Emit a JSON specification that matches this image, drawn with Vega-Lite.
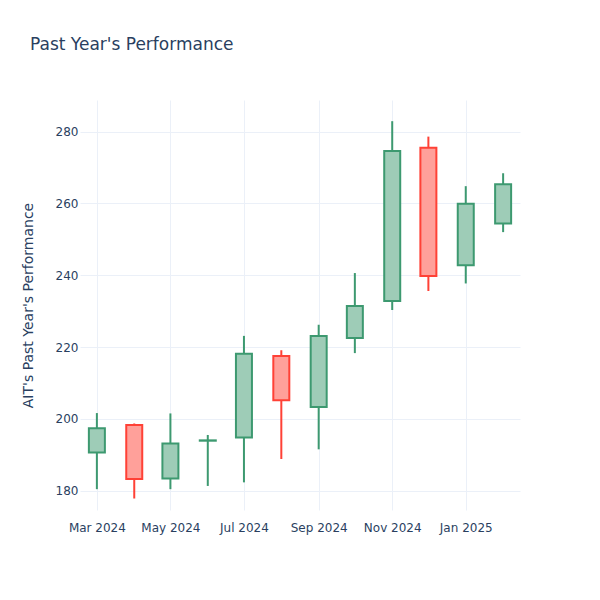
{
  "$schema": "https://vega.github.io/schema/vega-lite/v6.json",
  "autosize": "none",
  "width": 440,
  "height": 410,
  "padding": {"left": 80, "top": 100, "right": 80, "bottom": 90},
  "background": "white",
  "config": {
    "font": "DejaVu Sans",
    "view": {"stroke": null},
    "axis": {
      "labelFont": "DejaVu Sans",
      "labelFontSize": 12,
      "labelColor": "#2a3f5f",
      "titleFont": "DejaVu Sans",
      "titleColor": "#2a3f5f",
      "titleFontWeight": "normal",
      "gridColor": "#EBF0F8",
      "gridWidth": 1,
      "domain": false,
      "ticks": false
    }
  },
  "title": {
    "text": "Past Year's Performance",
    "anchor": "start",
    "frame": "group",
    "dx": -50,
    "offset": 46,
    "fontSize": 17,
    "fontWeight": "normal",
    "color": "#2a3f5f",
    "font": "DejaVu Sans"
  },
  "data": {
    "values": [
      {"date": "2024-03-01", "open": 190.6, "high": 201.6, "low": 180.4, "close": 197.4},
      {"date": "2024-04-01", "open": 198.3, "high": 198.7, "low": 177.8, "close": 183.2},
      {"date": "2024-05-01", "open": 183.4, "high": 201.5, "low": 180.4, "close": 193.1},
      {"date": "2024-06-01", "open": 193.9, "high": 195.5, "low": 181.3, "close": 194.0},
      {"date": "2024-07-01", "open": 194.8, "high": 223.1, "low": 182.3, "close": 218.1},
      {"date": "2024-08-01", "open": 217.5, "high": 219.1, "low": 188.8, "close": 205.2},
      {"date": "2024-09-01", "open": 203.3, "high": 226.2, "low": 191.5, "close": 223.1},
      {"date": "2024-10-01", "open": 222.5, "high": 240.6, "low": 218.3, "close": 231.4},
      {"date": "2024-11-01", "open": 232.8, "high": 282.9, "low": 230.3, "close": 274.6},
      {"date": "2024-12-01", "open": 275.5, "high": 278.6, "low": 235.6, "close": 239.8},
      {"date": "2025-01-01", "open": 242.8, "high": 264.8, "low": 237.7, "close": 259.9},
      {"date": "2025-02-01", "open": 254.4, "high": 268.4, "low": 252.0, "close": 265.3}
    ]
  },
  "encoding": {
    "x": {
      "field": "date",
      "type": "temporal",
      "scale": {
        "type": "utc",
        "nice": false,
        "padding": 0,
        "domain": [
          {"year": 2024, "month": 2, "date": 16, "utc": true},
          {"year": 2025, "month": 2, "date": 15, "utc": true}
        ]
      },
      "axis": {
        "title": null,
        "labelExpr": "utcFormat(datum.value, '%b %Y')",
        "values": [
          {"year": 2024, "month": 3, "date": 1, "utc": true},
          {"year": 2024, "month": 5, "date": 1, "utc": true},
          {"year": 2024, "month": 7, "date": 1, "utc": true},
          {"year": 2024, "month": 9, "date": 1, "utc": true},
          {"year": 2024, "month": 11, "date": 1, "utc": true},
          {"year": 2025, "month": 1, "date": 1, "utc": true}
        ],
        "labelPadding": 12,
        "labelFlush": false
      }
    }
  },
  "layer": [
    {
      "mark": {"type": "rule", "strokeWidth": 2},
      "encoding": {
        "y": {
          "field": "low",
          "type": "quantitative",
          "scale": {"domain": [174.6, 288.8], "zero": false, "nice": false},
          "axis": {
            "title": "AIT's Past Year's Performance",
            "titleFontSize": 14,
            "titlePadding": 20,
            "values": [180, 200, 220, 240, 260, 280],
            "labelPadding": 2
          }
        },
        "y2": {"field": "high"},
        "color": {
          "condition": {"test": "datum.close >= datum.open", "value": "#3D9970"},
          "value": "#FF4136"
        }
      }
    },
    {
      "mark": {"type": "bar", "size": 16, "fill": "white", "opacity": 1},
      "encoding": {
        "y": {"field": "open", "type": "quantitative"},
        "y2": {"field": "close"}
      }
    },
    {
      "mark": {"type": "bar", "size": 16, "strokeWidth": 2, "fillOpacity": 0.5},
      "encoding": {
        "y": {"field": "open", "type": "quantitative"},
        "y2": {"field": "close"},
        "fill": {
          "condition": {"test": "datum.close >= datum.open", "value": "#3D9970"},
          "value": "#FF4136"
        },
        "stroke": {
          "condition": {"test": "datum.close >= datum.open", "value": "#3D9970"},
          "value": "#FF4136"
        }
      }
    }
  ]
}
